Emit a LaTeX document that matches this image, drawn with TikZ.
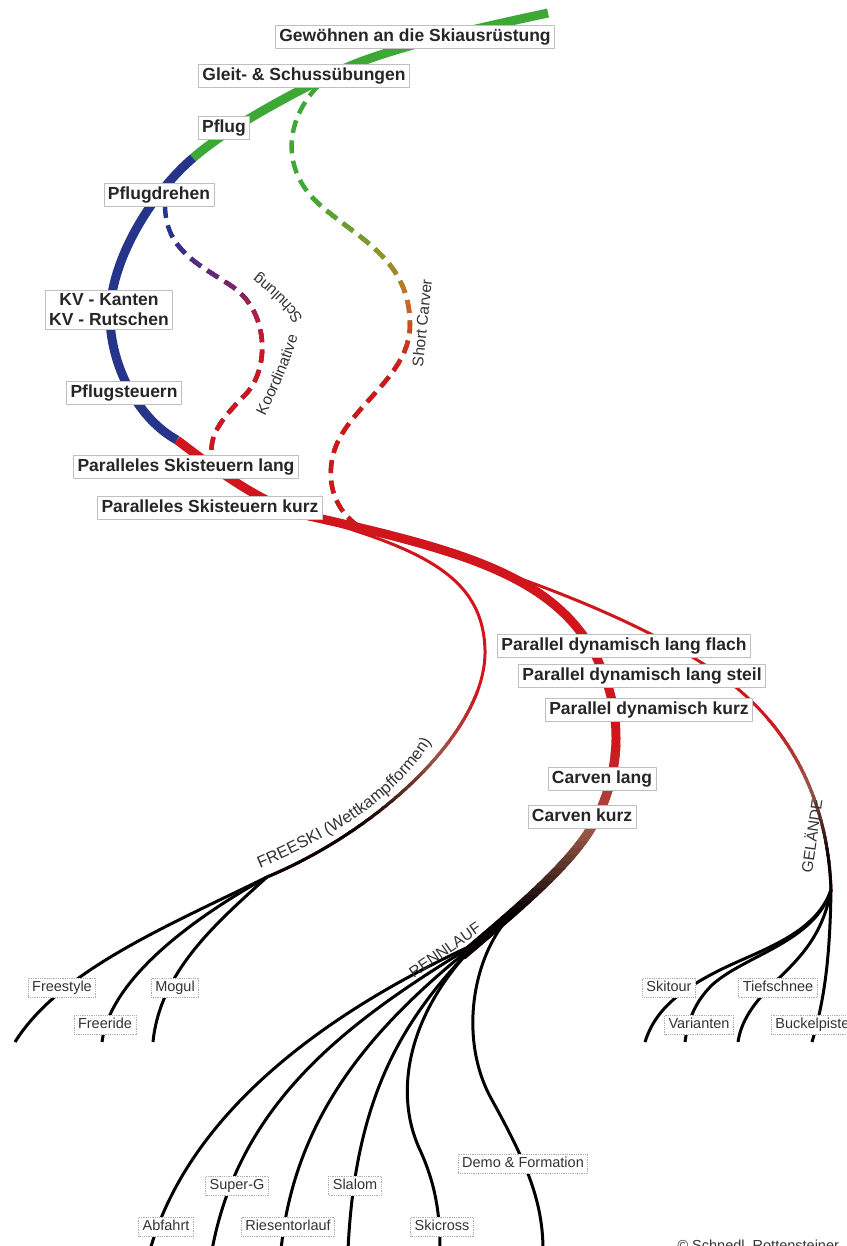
\documentclass[tikz,border=0pt]{standalone}
\usepackage{fontspec}
\setmainfont{Liberation Sans}
\usepackage{tikz}
\usetikzlibrary{decorations.text}

\definecolor{skigreen}{RGB}{62,168,55}
\definecolor{skiblue}{RGB}{38,52,138}
\definecolor{skired}{RGB}{208,22,28}
\definecolor{skibrown}{RGB}{150,88,72}
\definecolor{dashpurple}{RGB}{105,40,115}
\definecolor{dashcrimson}{RGB}{178,30,62}
\definecolor{dasholive}{RGB}{140,150,40}
\definecolor{dashorange}{RGB}{200,110,40}

\newcommand{\rotfont}{\fontsize{15.5}{18}\selectfont}

% colour bands: y from, y to, colour from, colour to, style, path
\newcommand{\bandfade}[6]{%
  \foreach \k in {0,...,11}{%
    \pgfmathsetmacro\ya{#1+(#2-#1)*\k/12}%
    \pgfmathsetmacro\yb{#1+(#2-#1)*(\k+1.2)/12}%
    \pgfmathtruncatemacro\pc{100-100*(\k+0.5)/12}%
    \begin{scope}
      \clip (0,\ya) rectangle (846,\yb);
      \draw[#5,#3!\pc!#4] #6;
    \end{scope}
  }%
}
% rest of a path in one colour: y from, colour, style, path
\newcommand{\bandrest}[4]{%
  \begin{scope}
    \clip (0,#1) rectangle (846,1246);
    \draw[#3,#2] #4;
  \end{scope}%
}

% tracks
\newcommand{\koordpath}{(165,205) .. controls (165,250) and (200,265) .. (230,285) .. controls (270,310) and (270,370) .. (245,395) .. controls (215,425) and (208,440) .. (213,462)}
\newcommand{\carverpath}{(318,86) .. controls (285,120) and (280,170) .. (320,205) .. controls (360,240) and (410,260) .. (410,325) .. controls (410,380) and (340,410) .. (332,460) .. controls (325,500) and (350,525) .. (370,532)}
\newcommand{\carvenpath}{(600,665) .. controls (625,720) and (620,780) .. (590,830) .. controls (565,870) and (510,915) .. (racehub)}
\newcommand{\freepath}{(485,650) .. controls (487,730) and (380,830) .. (freehub)}
\newcommand{\terrpath}{(720,675) .. controls (790,725) and (828,800) .. (terrhub)}

\tikzset{
  trunk/.style={line width=9pt},
  twig/.style={line width=3pt},
  fan/.style={line width=3pt,black},
  dashtrack/.style={line width=4.5pt,dash pattern=on 13pt off 7.5pt},
  stagebase/.style={draw=gray!50,line width=0.8pt,fill=white,text=black!85,
    font=\bfseries\fontsize{17.5}{20}\selectfont,inner xsep=4pt,inner ysep=3.5pt},
  stage/.style={stagebase,text height=12.5pt,text depth=3.5pt},
  discipline/.style={draw=gray!65,densely dotted,line width=0.8pt,fill=white,text=black!80,
    font=\fontsize{14.5}{17}\selectfont,inner xsep=4pt,inner ysep=3pt,text height=10.5pt,text depth=3pt},
  sidetext/.style={text=black!80,font=\rotfont}
}

\begin{document}
\begin{tikzpicture}[line join=round,x=1pt,y=-1pt]
\useasboundingbox (0,0) rectangle (846,1246);
\clip (0,0) rectangle (846,1246);
\fill[white] (0,0) rectangle (846,1246);

\coordinate (split) at (300,514);
\coordinate (freehub) at (267,877);
\coordinate (racehub) at (462,956);
\coordinate (raceroot) at (477,943);
\coordinate (demofork) at (512,914);
\coordinate (terrhub) at (831,890);

% dashed side tracks
\draw[dashtrack,skiblue] \koordpath;
\bandfade{235}{278}{skiblue}{dashpurple}{dashtrack}{\koordpath}
\bandfade{278}{315}{dashpurple}{dashcrimson}{dashtrack}{\koordpath}
\bandfade{315}{360}{dashcrimson}{skired}{dashtrack}{\koordpath}
\bandrest{360}{skired}{dashtrack}{\koordpath}

\draw[dashtrack,skigreen] \carverpath;
\bandfade{195}{250}{skigreen}{dasholive}{dashtrack}{\carverpath}
\bandfade{250}{300}{dasholive}{dashorange}{dashtrack}{\carverpath}
\bandfade{300}{370}{dashorange}{skired}{dashtrack}{\carverpath}
\bandrest{370}{skired}{dashtrack}{\carverpath}

% main track
\draw[trunk,skigreen] (548,13) .. controls (460,32) and (380,50) .. (330,75) .. controls (280,100) and (225,130) .. (193,158);
\draw[trunk,skiblue] (193,158) .. controls (155,190) and (108,260) .. (110,320) .. controls (112,370) and (140,420) .. (177,440);
\draw[trunk,skired] (177,440) .. controls (210,465) and (255,500) .. (split);
\draw[trunk,skired] (split) .. controls (460,550) and (560,575) .. (600,665);
\draw[twig,skired] (split) .. controls (420,548) and (483,575) .. (485,650);
\draw[twig,skired] (split) .. controls (450,550) and (620,605) .. (720,675);

% fading branches
\draw[trunk,skired] \carvenpath;
\bandfade{745}{835}{skired}{skibrown}{trunk}{\carvenpath}
\bandfade{835}{915}{skibrown}{black}{trunk}{\carvenpath}
\bandrest{915}{black}{trunk}{\carvenpath}

\draw[twig,skired] \freepath;
\bandfade{690}{760}{skired}{skibrown}{twig}{\freepath}
\bandfade{760}{830}{skibrown}{black}{twig}{\freepath}
\bandrest{830}{black}{twig}{\freepath}

\draw[twig,skired] \terrpath;
\bandfade{720}{790}{skired}{skibrown}{twig}{\terrpath}
\bandfade{790}{860}{skibrown}{black}{twig}{\terrpath}
\bandrest{860}{black}{twig}{\terrpath}

% freeski
\draw[fan] (freehub) .. controls (170,925) and (60,970) .. (15,1042);
\draw[fan] (freehub) .. controls (190,920) and (110,980) .. (102,1042);
\draw[fan] (freehub) .. controls (220,920) and (160,970) .. (153,1042);

% rennlauf
\draw[fan] (raceroot) .. controls (330,1010) and (190,1110) .. (150,1250);
\draw[fan] (raceroot) .. controls (350,1020) and (240,1100) .. (212,1250);
\draw[fan] (raceroot) .. controls (380,1020) and (295,1110) .. (281,1250);
\draw[fan] (raceroot) .. controls (400,1020) and (355,1100) .. (348,1250);
\draw[fan] (raceroot) .. controls (410,1010) and (392,1090) .. (420,1150) .. controls (436,1185) and (440,1215) .. (440,1250);
\draw[fan] (demofork) .. controls (472,955) and (458,1040) .. (492,1100) .. controls (525,1160) and (543,1200) .. (543,1250);

% gelaende
\draw[fan] (terrhub) .. controls (815,935) and (760,950) .. (720,970) .. controls (680,990) and (655,1010) .. (645,1042);
\draw[fan] (terrhub) .. controls (815,942) and (745,955) .. (712,985) .. controls (695,1002) and (688,1020) .. (685,1042);
\draw[fan] (terrhub) .. controls (822,940) and (795,962) .. (772,985) .. controls (752,1005) and (741,1022) .. (738,1042);
\draw[fan] (terrhub) .. controls (830,950) and (826,995) .. (812,1042);

% stages
\node[stage] (gew) at (415,37) {Gewöhnen an die Skiausrüstung};
\node[stage] (gleit) at (304,76) {Gleit- \& Schussübungen};
\node[stage] (pflug) at (224,128) {Pflug};
\node[stage] (pdreh) at (159,195) {Pflugdrehen};
\node[stagebase,align=center,inner ysep=3pt] (kv) at (109,310) {KV - Kanten\\KV - Rutschen};
\node[stage] (psteu) at (124,393) {Pflugsteuern};
\node[stage] (pslang) at (186,467) {Paralleles Skisteuern lang};
\node[stage] (pskurz) at (210,508) {Paralleles Skisteuern kurz};
\node[stage] (pdflach) at (624,646) {Parallel dynamisch lang flach};
\node[stage] (pdsteil) at (642,676) {Parallel dynamisch lang steil};
\node[stage] (pdkurz) at (649,710) {Parallel dynamisch kurz};
\node[stage] (cvlang) at (602,779) {Carven lang};
\node[stage] (cvkurz) at (582,817) {Carven kurz};

% disciplines
\node[discipline] (freestyle) at (62,988) {Freestyle};
\node[discipline] (freeride) at (105,1025) {Freeride};
\node[discipline] (mogul) at (175,988) {Mogul};
\node[discipline] (skitour) at (669,988) {Skitour};
\node[discipline] (varianten) at (699,1025) {Varianten};
\node[discipline] (tiefschnee) at (778,988) {Tiefschnee};
\node[discipline,anchor=west] (buckel) at (771,1025) {Buckelpiste};
\node[discipline] (demo) at (523,1164) {Demo \& Formation};
\node[discipline] (superg) at (237,1186) {Super-G};
\node[discipline] (slalom) at (355,1186) {Slalom};
\node[discipline] (abfahrt) at (166,1227) {Abfahrt};
\node[discipline] (riesen) at (288,1227) {Riesentorlauf};
\node[discipline] (skicross) at (442,1227) {Skicross};

% side texts
\node[sidetext,rotate=35] (renn) at (445,950) {RENNLAUF};
\node[sidetext,rotate=82] (gel) at (811,836) {GELÄNDE};
\node[sidetext,rotate=84] (short) at (422,323) {Short Carver};
\path[decorate,decoration={text along path,text color=black!80,
  text={|\rotfont|Koordinative}}]
  (265,416) .. controls (280,386) and (292,358) .. (299,332);
\path[decorate,decoration={text along path,text color=black!80,
  text={|\rotfont|Schulung}}]
  (303,319) .. controls (294,304) and (278,288) .. (246,264);
\path[decorate,decoration={text along path,text color=black!80,
  text={|\fontsize{16.5}{19}\selectfont|FREESKI (Wettkampfformen)}}]
  (260,868) .. controls (350,830) and (420,785) .. (452,700);
\node[anchor=base west,font=\fontsize{14.5}{17}\selectfont,text=black!80] (copy) at (674,1250) {© Schnedl, Rottensteiner};
\end{tikzpicture}
\end{document}
